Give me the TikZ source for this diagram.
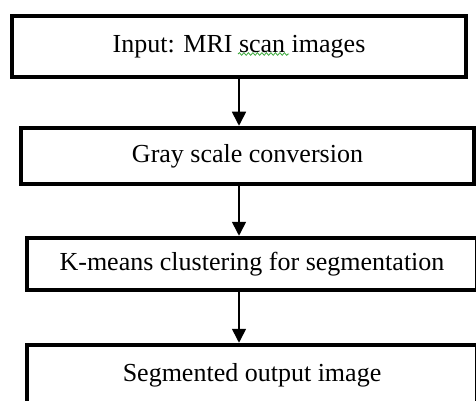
\documentclass[tikz,border=0pt]{standalone}
\usepackage{fontspec}
\setmainfont{Liberation Serif}
\usetikzlibrary{arrows.meta, decorations.pathmorphing}

\definecolor{spellgreen}{RGB}{60,170,60}

\begin{document}
\begin{tikzpicture}[x = 1pt, y = 1pt,
  stepbox/.style = {draw, line width = 4.5pt, font = \fontsize{26}{30}\selectfont, inner sep = 0pt},
  arr/.style = {line width = 1.6pt, -{Triangle[width = 14pt, length = 14pt]}}]
\useasboundingbox (0, 0) rectangle (476, -401);
\clip (0, 0) rectangle (476, -401);

\node[stepbox, minimum width = 454, minimum height = 61] (input) at (239, -46.5) {Input: MRI scan images};
\node[stepbox, minimum width = 453, minimum height = 56] (gray) at (247.5, -156) {Gray scale conversion};
\node[stepbox, minimum width = 450, minimum height = 52] (kmeans) at (252, -264) {K-means clustering for segmentation};
\node[stepbox, minimum width = 450, minimum height = 60] (output) at (252, -375) {Segmented output image};

\draw[arr] (input.south) -- (input.south |- gray.north);
\draw[arr] (input.south |- gray.south) -- (input.south |- kmeans.north);
\draw[arr] (input.south |- kmeans.south) -- (input.south |- output.north);

% spell check mark under "scan"
\coordinate (sqa) at (238, -54);
\coordinate (sqb) at (289, -54);
\draw[spellgreen, line width = 0.8pt, decorate, decoration = {snake, amplitude = 1.3pt, segment length = 4.5pt}] (sqa) -- (sqb);
\end{tikzpicture}
\end{document}
